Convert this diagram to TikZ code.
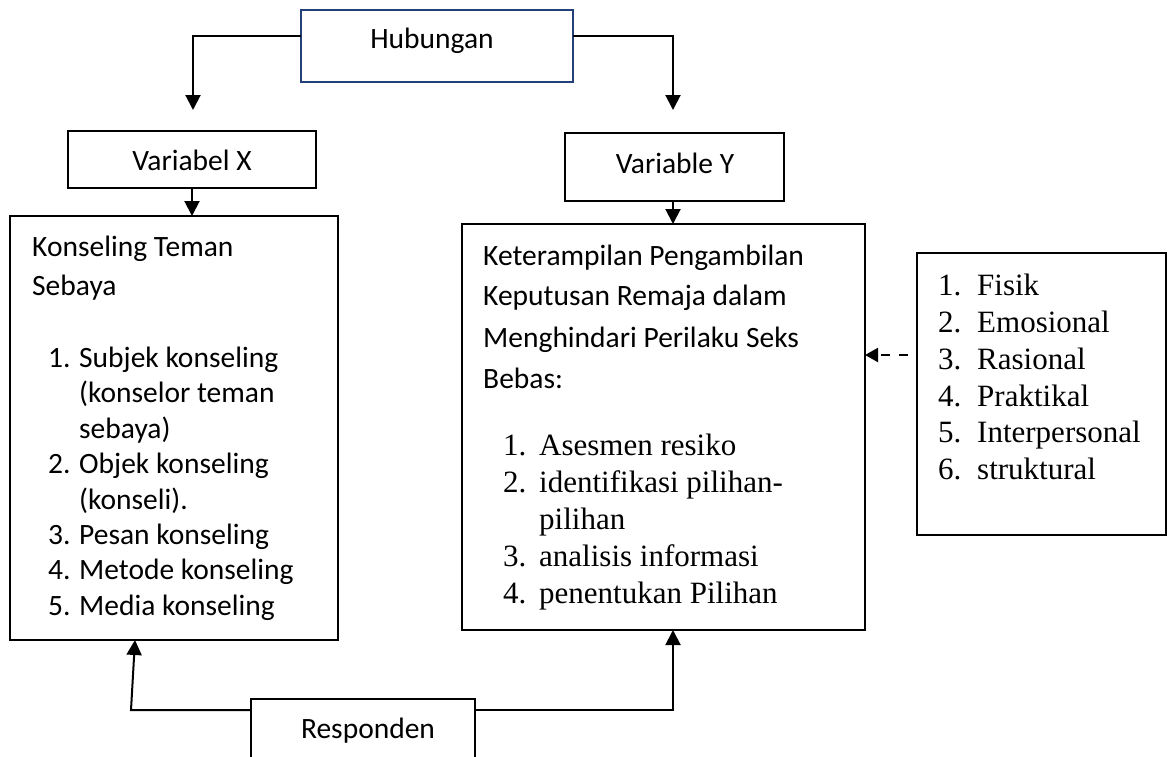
\documentclass[tikz,border=0pt]{standalone}
\usepackage{fontspec}
\setmainfont{Liberation Serif}
\newfontfamily\calfont{Carlito}
\usetikzlibrary{arrows.meta}
\definecolor{hubblue}{RGB}{36,64,120}
\begin{document}
\begin{tikzpicture}[x=1pt,y=-1pt,
  box/.style={draw=black, line width=1.5pt, inner sep=0pt, outer sep=0pt, rectangle},
  conn/.style={line width=2pt, draw=black},
  arr/.style={conn, -{Triangle[width=15pt,length=15pt]}},
  darr/.style={line width=2pt, draw=black, dash pattern=on 9pt off 9pt, dash phase=9pt, -{Triangle[width=14pt,length=13pt]}},
  cal/.style={font=\calfont\fontsize{29.5}{35}\selectfont, inner sep=0pt, anchor=base west},
  calc/.style={font=\calfont\fontsize{29.5}{35}\selectfont, inner sep=0pt, anchor=base},
  tnr/.style={font=\fontsize{31}{36}\selectfont, inner sep=0pt, anchor=base west},
  ]
\useasboundingbox (0,0) rectangle (1168,756);
\clip (0,0) rectangle (1168,756);
\fill[white] (0,0) rectangle (1168,756);

% boxes
\node[box, draw=hubblue, minimum width=272pt, minimum height=72pt] (hub) at (437,46) {};
\node[box, minimum width=248pt, minimum height=57pt] (vx) at (192,159.5) {};
\node[box, minimum width=219pt, minimum height=68pt] (vy) at (674.5,167) {};
\node[box, minimum width=328pt, minimum height=424pt] (left) at (174,428) {};
\node[box, minimum width=403pt, minimum height=406pt] (right) at (663.5,427) {};
\node[box, minimum width=249pt, minimum height=282pt] (small) at (1041.5,394) {};
\node[box, minimum width=224pt, minimum height=80pt] (resp) at (363,739) {};

% single labels
\node[calc] (thub) at (432,48) {Hubungan};
\node[calc] (tvx) at (192,170) {Variabel X};
\node[calc] (tvy) at (675,173) {Variable Y};
\node[calc] (tresp) at (368,738) {Responden};

% left box text
\node[cal] (l1) at (32,256) {Konseling Teman};
\node[cal] (l2) at (32,295) {Sebaya};
\node[cal] (ln1) at (48,367) {1.};
\node[cal] (lt1) at (79,367) {Subjek konseling};
\node[cal] (lt1b) at (79,402) {(konselor teman};
\node[cal] (lt1c) at (79,438) {sebaya)};
\node[cal] (ln2) at (48,473) {2.};
\node[cal] (lt2) at (79,473) {Objek konseling};
\node[cal] (lt2b) at (79,509) {(konseli).};
\node[cal] (ln3) at (48,544) {3.};
\node[cal] (lt3) at (79,544) {Pesan konseling};
\node[cal] (ln4) at (48,579) {4.};
\node[cal] (lt4) at (79,579) {Metode konseling};
\node[cal] (ln5) at (48,615) {5.};
\node[cal] (lt5) at (79,615) {Media konseling};

% right box text
\node[cal] (r1) at (483,265) {Keterampilan Pengambilan};
\node[cal] (r2) at (483,305) {Keputusan Remaja dalam};
\node[cal] (r3) at (483,347) {Menghindari Perilaku Seks};
\node[cal] (r4) at (483,388) {Bebas:};
\node[tnr] (rn1) at (503,455) {1.};
\node[tnr] (rt1) at (539,455) {Asesmen resiko};
\node[tnr] (rn2) at (503,492) {2.};
\node[tnr] (rt2) at (539,492) {identifikasi pilihan-};
\node[tnr] (rt2b) at (539,529) {pilihan};
\node[tnr] (rn3) at (503,566) {3.};
\node[tnr] (rt3) at (539,566) {analisis informasi};
\node[tnr] (rn4) at (503,603) {4.};
\node[tnr] (rt4) at (539,603) {penentukan Pilihan};

% small box text
\node[tnr] (sn1) at (938,295) {1.};
\node[tnr] (st1) at (977,295) {Fisik};
\node[tnr] (sn2) at (938,332) {2.};
\node[tnr] (st2) at (977,332) {Emosional};
\node[tnr] (sn3) at (938,369) {3.};
\node[tnr] (st3) at (977,369) {Rasional};
\node[tnr] (sn4) at (938,406) {4.};
\node[tnr] (st4) at (977,406) {Praktikal};
\node[tnr] (sn5) at (938,442) {5.};
\node[tnr] (st5) at (977,442) {Interpersonal};
\node[tnr] (sn6) at (938,479) {6.};
\node[tnr] (st6) at (977,479) {struktural};

% coordinates for connectors
\coordinate (hl) at (193,36);
\coordinate (hla) at (193,110);
\coordinate (hr) at (673,36);
\coordinate (hra) at (673,110);
\coordinate (ly) at (0,710);
\coordinate (lb) at (131,710);
\coordinate (lt) at (135,0);
\coordinate (rb) at (673,710);
\coordinate (dy) at (0,355);

% connectors
\draw[arr] (hub.west |- hl) -- (hl) -- (hla);
\draw[arr] (hub.east |- hr) -- (hr) -- (hra);
\draw[arr] (vx.south) -- (left.north -| vx.south);
\draw[arr] (vy.south -| rb) -- (right.north -| rb);
\draw[darr] (small.west |- dy) -- (right.east |- dy);
\draw[arr] (resp.west |- ly) -- (lb) -- (left.south -| lt);
\draw[arr] (resp.east |- ly) -- (rb) -- (right.south -| rb);
\end{tikzpicture}
\end{document}
